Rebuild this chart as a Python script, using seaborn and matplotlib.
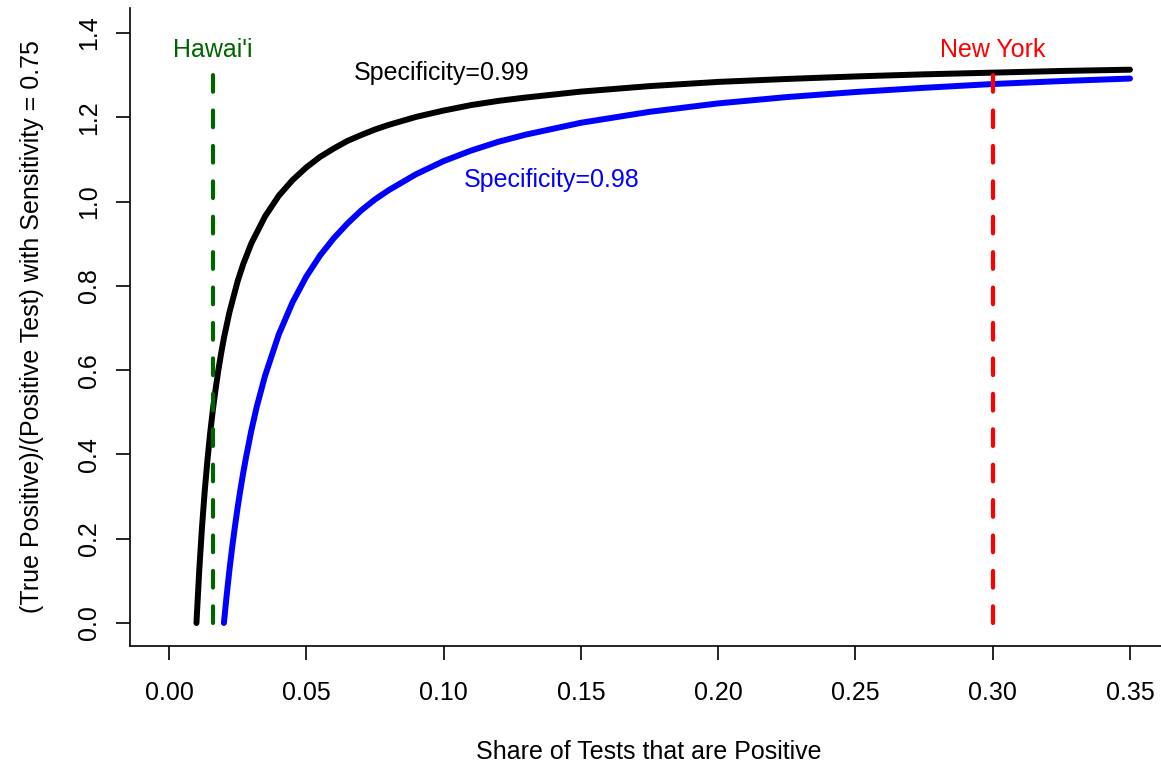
import numpy as np
import pandas as pd
import seaborn as sns
import matplotlib.pyplot as plt

# Valores (parcela de testes positivos -> razão)
share_99 = [0.010, 0.011, 0.012, 0.013, 0.014, 0.015, 0.016, 0.017, 0.018, 0.019,
            0.020, 0.022, 0.025, 0.027, 0.030, 0.035, 0.040, 0.045, 0.050, 0.055,
            0.060, 0.065, 0.070, 0.075, 0.080, 0.090, 0.100, 0.110, 0.120, 0.130,
            0.150, 0.175, 0.200, 0.225, 0.250, 0.275, 0.300, 0.325, 0.350]
ratio_99 = [0.000, 0.123, 0.225, 0.312, 0.386, 0.451, 0.507, 0.556, 0.601, 0.640,
            0.676, 0.737, 0.811, 0.851, 0.901, 0.965, 1.014, 1.051, 1.081, 1.106,
            1.126, 1.144, 1.158, 1.171, 1.182, 1.201, 1.216, 1.229, 1.239, 1.247,
            1.261, 1.274, 1.284, 1.291, 1.297, 1.302, 1.306, 1.310, 1.313]

share_98 = [0.020, 0.021, 0.022, 0.023, 0.024, 0.025, 0.026, 0.027, 0.028, 0.030,
            0.032, 0.035, 0.040, 0.045, 0.050, 0.055, 0.060, 0.065, 0.070, 0.075,
            0.080, 0.090, 0.100, 0.110, 0.120, 0.130, 0.150, 0.175, 0.200, 0.225,
            0.250, 0.275, 0.300, 0.325, 0.350]
ratio_98 = [0.000, 0.065, 0.125, 0.179, 0.228, 0.274, 0.316, 0.355, 0.391, 0.457,
            0.514, 0.587, 0.685, 0.761, 0.822, 0.872, 0.913, 0.948, 0.979, 1.005,
            1.027, 1.065, 1.096, 1.121, 1.142, 1.159, 1.187, 1.213, 1.233, 1.248,
            1.260, 1.270, 1.279, 1.286, 1.292]

states = ["Hawai'i", "New York"]
state_share = [0.016, 0.30]
state_top = 1.307
state_colors = ["#006400", "#ff0000"]

x_ticks = [0.00, 0.05, 0.10, 0.15, 0.20, 0.25, 0.30, 0.35]
y_ticks = [0.0, 0.2, 0.4, 0.6, 0.8, 1.0, 1.2, 1.4]


def main():
    sns.set_style("ticks")
    plt.rcParams['font.family'] = ['Liberation Sans', 'DejaVu Sans']
    fs = 18

    fig = plt.figure(figsize=(11.61, 7.67), dpi=100)
    ax = fig.add_axes([130 / 1161, 121 / 767, 1 - 130 / 1161, 638 / 767])

    df99 = pd.DataFrame({'share': share_99, 'ratio': ratio_99})
    df98 = pd.DataFrame({'share': share_98, 'ratio': ratio_98})
    sns.lineplot(data=df99, x='share', y='ratio', color='black', lw=4.3,
                 sort=False, estimator=None, ax=ax, solid_capstyle='round')
    sns.lineplot(data=df98, x='share', y='ratio', color='#0000ff', lw=4.3,
                 sort=False, estimator=None, ax=ax, solid_capstyle='round')

    # Linhas verticais dos estados
    for name, xs, col in zip(states, state_share, state_colors):
        ax.plot([xs, xs], [0, state_top], color=col, lw=3, ls=(0, (4, 4.5)),
                dash_capstyle='round')
        ax.text(xs, 1.36, name, color=col, fontsize=fs, ha='center', va='center')

    ax.text(0.0994, 1.305, 'Specificity=0.99', color='black', fontsize=fs,
            ha='center', va='center')
    ax.text(0.1395, 1.051, 'Specificity=0.98', color='#0000ff', fontsize=fs,
            ha='center', va='center')

    ax.set_xlim(-0.0142, 0.3613)
    ax.set_ylim(-0.0546, 1.4594)
    ax.set_xticks(x_ticks)
    ax.set_xticklabels([f'{v:.2f}' for v in x_ticks])
    ax.set_yticks(y_ticks)
    ax.set_yticklabels([f'{v:.1f}' for v in y_ticks], rotation=90, va='center')

    for side in ['top', 'right']:
        ax.spines[side].set_visible(False)
    for side in ['left', 'bottom']:
        ax.spines[side].set_color('black')
        ax.spines[side].set_linewidth(1.2)
    ax.tick_params(axis='both', direction='out', length=10, width=1.2,
                   color='black', labelsize=fs, labelcolor='black')
    ax.tick_params(axis='x', pad=15)
    ax.tick_params(axis='y', pad=11)

    ax.set_xlabel('Share of Tests that are Positive', fontsize=fs, color='black')
    ax.set_ylabel('(True Positive)/(Positive Test) with Sensitivity = 0.75',
                  fontsize=fs, color='black')
    ax.xaxis.set_label_coords(0.503, -0.148)
    ax.yaxis.set_label_coords(-0.083, 0.5)

    fig.savefig('out.png', dpi=100)


if __name__ == "__main__":
    main()
